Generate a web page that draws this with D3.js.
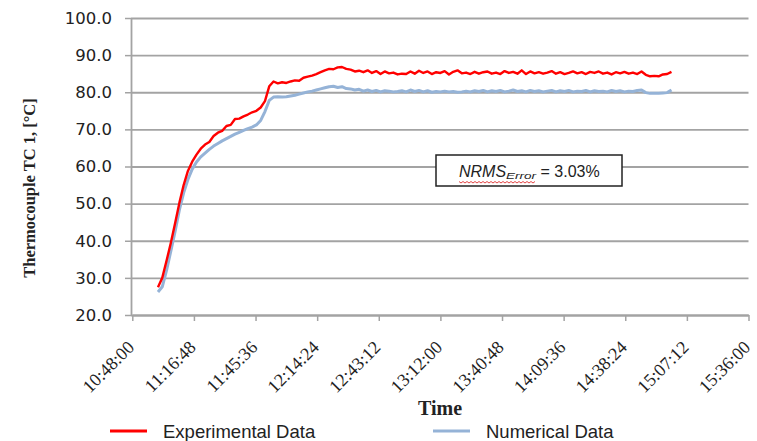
<!DOCTYPE html>
<html><head><meta charset="utf-8">
<script src="https://cdn.jsdelivr.net/npm/d3@7"></script>
<style>body{margin:0;background:#fff}svg{display:block}</style>
</head><body>
<svg id="chart" width="757" height="441"></svg>
<script>
const times = ["11:00","11:02","11:04","11:06","11:08","11:10","11:12","11:14","11:16","11:18","11:20","11:22","11:24","11:26","11:28","11:30","11:32","11:34","11:36","11:38","11:40","11:42","11:44","11:46","11:48","11:50","11:52","11:54","11:56","11:58",
"12:00","12:02","12:04","12:06","12:08","12:10","12:12","12:14","12:16","12:18","12:20","12:22","12:24","12:26","12:28","12:30","12:32","12:34","12:36","12:38","12:40","12:42","12:44","12:46","12:48","12:50","12:52","12:54","12:56","12:58",
"13:00","13:02","13:04","13:06","13:08","13:10","13:12","13:14","13:16","13:18","13:20","13:22","13:24","13:26","13:28","13:30","13:32","13:34","13:36","13:38","13:40","13:42","13:44","13:46","13:48","13:50","13:52","13:54","13:56","13:58",
"14:00","14:02","14:04","14:06","14:08","14:10","14:12","14:14","14:16","14:18","14:20","14:22","14:24","14:26","14:28","14:30","14:32","14:34","14:36","14:38","14:40","14:42","14:44","14:46","14:48","14:50","14:52","14:54","14:56","14:58","15:00"];

const experimental = [27.5,30.0,34.6,39.4,44.7,50.2,55.0,58.8,61.3,63.2,64.8,65.9,66.6,68.2,69.1,69.6,70.9,71.2,72.8,72.9,73.5,74.0,74.6,75.0,75.9,77.6,81.6,82.9,82.4,82.7,
82.5,82.9,83.2,83.1,83.9,84.2,84.5,84.9,85.4,85.9,86.3,86.2,86.7,86.8,86.3,86.1,85.6,85.8,85.4,85.9,85.2,85.7,84.9,85.6,85.1,85.3,84.8,85.0,84.9,85.6,
85.0,85.8,85.2,85.6,84.9,85.4,85.2,85.7,84.8,85.5,85.9,85.1,85.3,84.9,85.5,85.0,85.4,85.6,85.0,85.3,84.9,85.7,85.2,85.5,85.0,85.9,84.9,85.6,85.1,85.4,
85.0,85.3,85.7,85.0,85.4,84.9,85.2,85.6,85.1,85.4,84.9,85.5,85.2,85.6,85.0,85.3,84.8,85.4,85.1,85.5,85.0,85.3,84.9,85.6,84.7,84.3,84.4,84.3,84.8,84.9,85.5];

const numerical = [26.2,27.6,32.0,37.2,42.5,48.3,52.9,56.5,59.3,61.2,62.6,63.6,64.6,65.5,66.2,66.9,67.5,68.1,68.7,69.2,69.7,70.2,70.6,71.2,72.4,74.8,77.8,78.7,78.8,78.7,
78.8,79.0,79.2,79.5,79.8,80.1,80.3,80.6,80.9,81.2,81.5,81.6,81.3,81.5,81.0,80.9,80.6,80.8,80.3,80.6,80.2,80.5,80.1,80.4,80.3,80.1,80.2,80.4,80.1,80.6,
80.2,80.5,80.1,80.4,80.0,80.2,80.1,80.3,80.1,80.2,80.0,80.1,80.3,80.1,80.4,80.2,80.5,80.1,80.4,80.2,80.5,80.1,80.3,80.6,80.2,80.4,80.1,80.5,80.2,80.4,
80.1,80.3,80.5,80.1,80.4,80.2,80.5,80.1,80.3,80.2,80.5,80.1,80.4,80.2,80.3,80.1,80.5,80.2,80.4,80.1,80.3,80.2,80.5,80.6,79.9,79.7,79.7,79.7,79.8,79.9,80.6];

const xTickLabels = ["10:48:00","11:16:48","11:45:36","12:14:24","12:43:12","13:12:00","13:40:48","14:09:36","14:38:24","15:07:12","15:36:00"];
const yTicks = [20,30,40,50,60,70,80,90,100];
const seriesNames = ["Experimental Data","Numerical Data"];
const seriesColors = ["#ff0000","#95b3d7"];
const annotation = {label:"NRMS", sub:"Error", value:" = 3.03%"};

const svg = d3.select("#chart");
const L = 131, R = 748.5, T = 18, B = 315;
const parseHMS = d3.timeParse("%H:%M:%S");
const parseHM = d3.timeParse("%H:%M");

const x = d3.scaleTime().domain([parseHMS(xTickLabels[0]), parseHMS(xTickLabels[xTickLabels.length-1])]).range([132.3, R]);
const y = d3.scaleLinear().domain([20,100]).range([B, T]);
const grey = "#a3a3a3";

// gridlines
svg.append("g").attr("transform",`translate(${L},0)`)
  .call(d3.axisLeft(y).tickValues(yTicks).tickSize(-(R-L)).tickSizeOuter(0).tickFormat(""))
  .call(g=>{g.select(".domain").remove(); g.selectAll("line").attr("stroke",grey).attr("stroke-width",1.8);});

// y axis
svg.append("g").attr("transform",`translate(${L},0)`)
  .call(d3.axisLeft(y).tickValues(yTicks).tickSize(6).tickSizeOuter(0).tickPadding(13).tickFormat(d3.format(".1f")))
  .call(g=>{
    g.select(".domain").attr("stroke",grey).attr("stroke-width",1.8);
    g.selectAll("line").attr("stroke",grey).attr("stroke-width",1.5);
    g.selectAll("text").attr("fill","#222").style("font-family","'DejaVu Sans', Verdana, sans-serif").style("font-size","16.5px");
  });

// x axis
svg.append("g").attr("transform",`translate(0,${B})`)
  .call(d3.axisBottom(x).tickValues(xTickLabels.map(parseHMS)).tickSize(6).tickSizeOuter(0).tickFormat((d,i)=>xTickLabels[i]))
  .call(g=>{
    g.select(".domain").attr("stroke",grey).attr("stroke-width",1.8);
    g.selectAll("line").attr("stroke",grey).attr("stroke-width",1.5);
    g.selectAll("text").attr("fill","#222")
      .style("font-family","'Liberation Serif','Times New Roman',serif").style("font-size","18px")
      .attr("text-anchor","end").attr("dy","0.35em").attr("y",0)
      .attr("transform","translate(-2,29) rotate(-45)");
  });

// lines
const line = d3.line().x(d=>x(parseHM(d[0]))).y(d=>y(d[1]));
const numData = times.map((t,i)=>[t,numerical[i]]);
const expData = times.map((t,i)=>[t,experimental[i]]);
svg.append("path").datum(numData).attr("d",line).attr("fill","none").attr("stroke",seriesColors[1]).attr("stroke-width",3).attr("stroke-linejoin","round");
svg.append("path").datum(expData).attr("d",line).attr("fill","none").attr("stroke",seriesColors[0]).attr("stroke-width",2.4).attr("stroke-linejoin","round");

// annotation box
const box = svg.append("g");
box.append("rect").attr("x",436).attr("y",155).attr("width",186).attr("height",31).attr("fill","#fff").attr("stroke","#222").attr("stroke-width",1.5);
const at = box.append("text").attr("x",459).attr("y",177).style("font-family","'Liberation Sans',Arial,sans-serif").style("font-size","16px").attr("fill","#222");
at.append("tspan").style("font-style","italic").text(annotation.label);
at.append("tspan").style("font-style","italic").style("font-size","9.5px").attr("dy",2).attr("textLength",30).attr("lengthAdjust","spacingAndGlyphs").text(annotation.sub);
at.append("tspan").attr("dy",-2).text(annotation.value);
// spell-check squiggle under NRMS
const sq = [];
for(let k=0;k<=38;k++){ sq.push([459+k*2, 181.5+(k%2?1.5:0)]); }
box.append("path").attr("d",d3.line()(sq)).attr("fill","none").attr("stroke","#e03030").attr("stroke-width",0.9);

// axis titles
svg.append("text").attr("transform","translate(35,188) rotate(-90)").attr("text-anchor","middle")
  .style("font-family","'Liberation Serif','Times New Roman',serif").style("font-weight","bold").style("font-size","16.5px").attr("fill","#222")
  .text("Thermocouple TC 1, [°C]");
svg.append("text").attr("x",440).attr("y",415).attr("text-anchor","middle")
  .style("font-family","'Liberation Serif','Times New Roman',serif").style("font-weight","bold").style("font-size","20px").attr("fill","#222")
  .text("Time");

// legend
const legX = [110, 433];
seriesNames.forEach((n,i)=>{
  svg.append("line").attr("x1",legX[i]).attr("x2",legX[i]+37).attr("y1",431).attr("y2",431).attr("stroke",seriesColors[i]).attr("stroke-width",3);
  svg.append("text").attr("x",legX[i]+53).attr("y",438).style("font-family","'Liberation Sans',Arial,sans-serif").style("font-size","18.5px").attr("fill","#222").text(n);
});
</script>
</body></html>
